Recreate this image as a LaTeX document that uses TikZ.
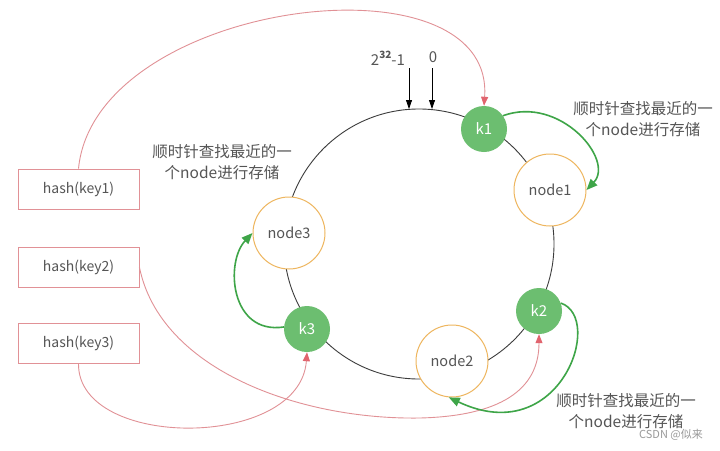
\documentclass[tikz,border=0pt]{standalone}
\usepackage{fontspec}
\setmainfont{Noto Sans CJK SC}
\usetikzlibrary{arrows.meta}
\definecolor{kgreen}{RGB}{108,190,112}
\definecolor{agreen}{RGB}{62,165,72}
\definecolor{norange}{RGB}{238,182,95}
\definecolor{pinkline}{RGB}{225,145,150}
\definecolor{pinktip}{RGB}{225,100,110}
\definecolor{txt}{RGB}{85,85,85}
\definecolor{ring}{RGB}{60,60,60}
\begin{document}
\begin{tikzpicture}[x=1pt,y=-1pt,
  knode/.style={circle,fill=kgreen,draw=none,minimum size=46pt,inner sep=0pt,text=white,font=\fontsize{15}{18}\selectfont},
  snode/.style={circle,fill=white,draw=norange,line width=1pt,minimum size=72pt,inner sep=0pt,text=txt,font=\fontsize{14.5}{17}\selectfont},
  hbox/.style={rectangle,draw=pinkline,line width=0.8pt,minimum width=121pt,minimum height=40pt,inner sep=0pt,text=txt,font=\fontsize{14}{16}\selectfont},
  pinkarrow/.style={draw=pinkline,line width=0.9pt,-{Triangle[length=9pt,width=7pt,color=pinktip]}},
  greenarrow/.style={draw=agreen,line width=1.6pt,-{Triangle[length=11pt,width=9pt,color=agreen]}},
  blackarrow/.style={draw=black,line width=0.8pt,-{Triangle[length=9pt,width=6pt]}},
  note/.style={align=center,text=txt,font=\fontsize{15.5}{21}\selectfont},
  toplabel/.style={text=txt,font=\fontsize{15}{18}\selectfont}
]
\useasboundingbox (0,0) rectangle (720,450);
\fill[white] (0,0) rectangle (720,450);

% ring
\draw[ring,line width=0.9pt] (419,244) circle[radius=135pt];

% ring marks
\node[toplabel] (lmax) at (388,58) {2\raisebox{0.45em}{\fontsize{10}{12}\selectfont\bfseries 32}-1};
\node[toplabel] (lzero) at (433,57) {0};
\coordinate (tmax) at (409,109);
\coordinate (tzero) at (432,109);
\coordinate (smax) at (409,68);
\coordinate (szero) at (432,68);
\draw[blackarrow] (smax) -- (tmax);
\draw[blackarrow] (szero) -- (tzero);

% ring nodes
\node[knode] (k1) at (484,129) {k1};
\node[snode] (n1) at (550,190) {node1};
\node[knode] (k2) at (539,311) {k2};
\node[snode] (n2) at (452,361) {node2};
\node[knode] (k3) at (307,329) {k3};
\node[snode] (n3) at (289,233) {node3};

% hash boxes
\node[hbox] (h1) at (78.5,189) {hash(key1)};
\node[hbox] (h2) at (78.5,267) {hash(key2)};
\node[hbox] (h3) at (78.5,343.5) {hash(key3)};

% pink mapping arrows
\draw[pinkarrow] (h1.north) .. controls (95,0) and (495,-50) .. (k1.north);
\draw[pinkarrow] (h2.east) .. controls (160,370) and (300,420) .. (420,418) .. controls (500,416) and (539,390) .. (k2.south);
\draw[pinkarrow] (h3.south) .. controls (78,450) and (300,450) .. (k3.south);

% green clockwise arrows
\draw[greenarrow] (k1.35) .. controls (560,95) and (615,160) .. (n1.east);
\draw[greenarrow] (k2.20) .. controls (605,318) and (560,450) .. (n2.265);
\draw[greenarrow] (k3.175) .. controls (230,335) and (225,262) .. (n3.west);

% notes
\node[note] (t1) at (643,119) {顺时针查找最近的一\\个node进行存储};
\node[note] (t2) at (222,162) {顺时针查找最近的一\\个node进行存储};
\node[note] (t3) at (626,411) {顺时针查找最近的一\\个node进行存储};
\node[text=gray!80,font=\fontsize{11}{13}\selectfont] (wm) at (671,435) {CSDN @似来};
\end{tikzpicture}
\end{document}
